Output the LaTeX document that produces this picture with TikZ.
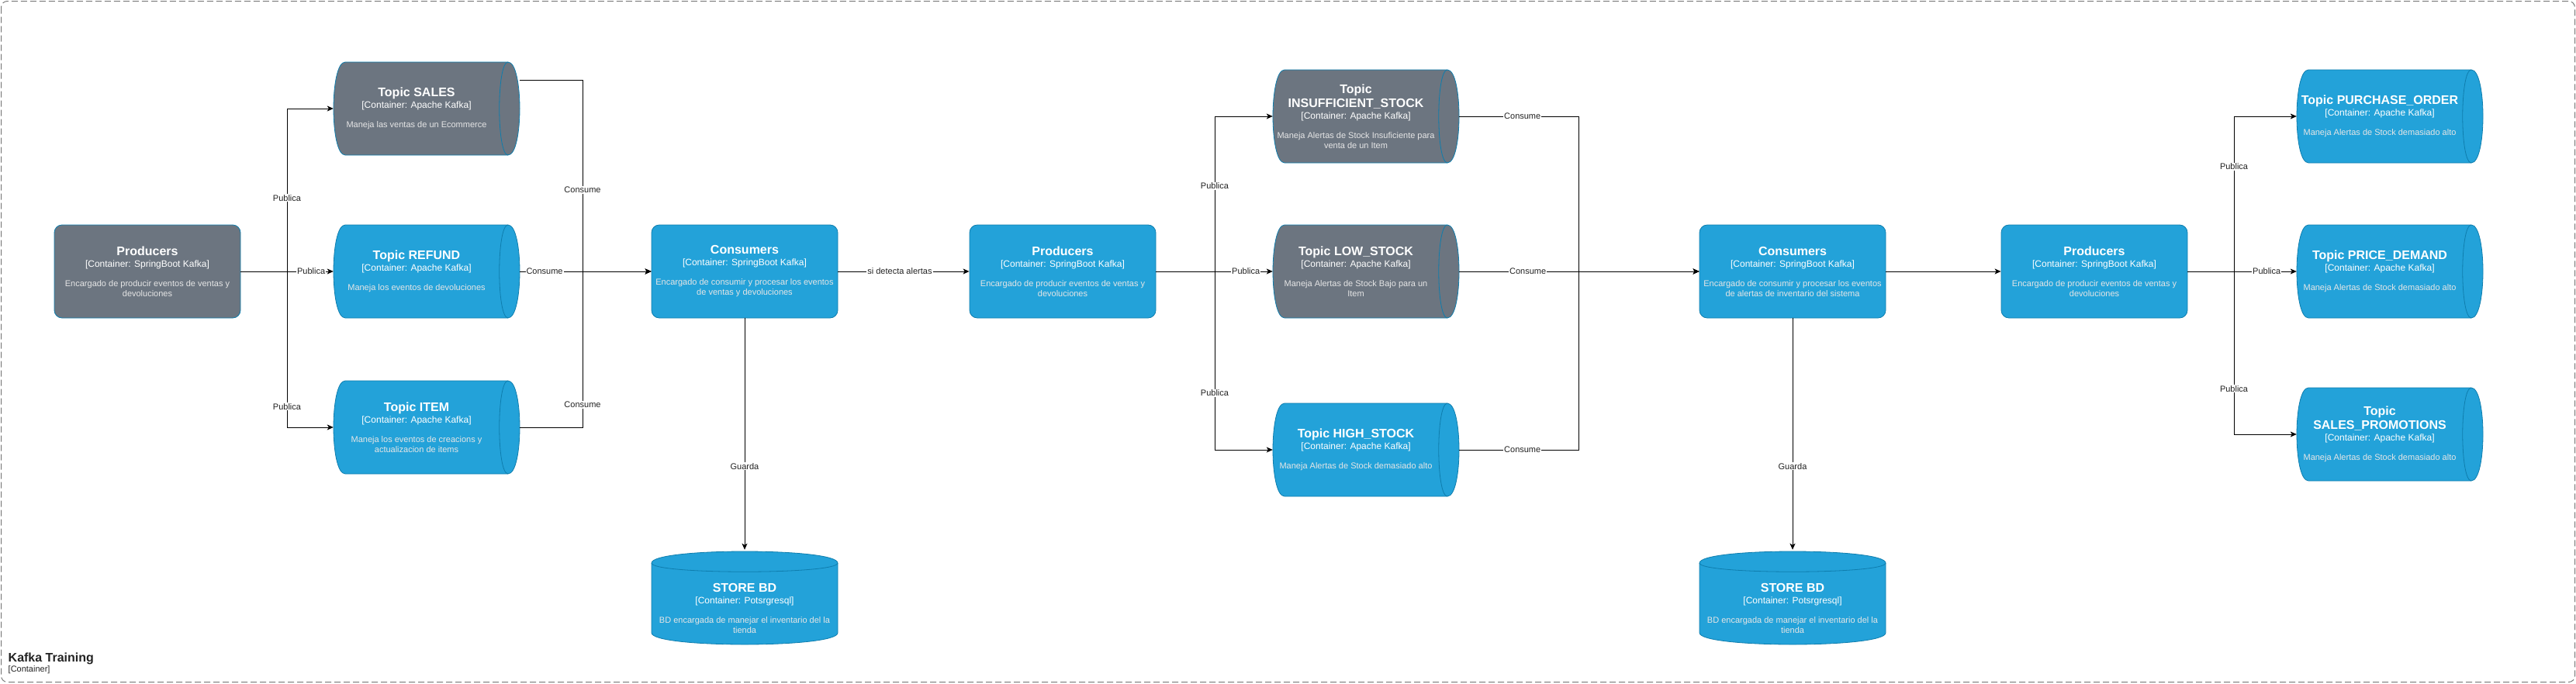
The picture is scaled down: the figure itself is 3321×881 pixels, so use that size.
\documentclass[tikz,border=0pt]{standalone}
\usepackage{fontspec}
\setmainfont{Liberation Sans}
\usetikzlibrary{arrows.meta}
\definecolor{c4blue}{HTML}{23A2D9}
\definecolor{c4gray}{HTML}{6C7580}
\definecolor{c4stroke}{HTML}{0E7DAD}
\definecolor{desccol}{HTML}{E6E6E6}
\definecolor{boundcol}{HTML}{7A7A7A}
\definecolor{labcol}{HTML}{222222}
\newcommand\kttl[1]{{\fontsize{16}{13}\selectfont\bfseries #1}}
\newcommand\ktyp[1]{{\fontsize{12}{13}\selectfont #1}}
\newcommand\kdsc[1]{{\color{desccol}#1}}
\tikzset{
  txt/.style={align=center, text=white, inner sep=0pt,
    font={\fontsize{11}{13}\selectfont\lineskiplimit=-50pt\lineskip=0pt}},
  shapebox/.style={draw=none, minimum width=240pt, minimum height=120pt, inner sep=0pt},
  c4line/.style={draw=c4stroke, line width=0.8pt},
  cont/.style={txt, c4line, rounded corners=10pt, minimum width=240pt, minimum height=120pt},
  rel/.style={draw=black, line width=1pt, -{Stealth[length=8pt,width=7pt,inset=2pt]}},
  lbl/.style={fill=white, inner sep=1pt, text=labcol, font={\fontsize{11}{13}\selectfont}},
}
% horizontal queue: name, left, top, fill, text
\newcommand\kqueue[5]{%
  \filldraw[c4line, fill=#4] (#2+225,#3) .. controls (#2+245,#3) and (#2+245,#3+120) .. (#2+225,#3+120)
     -- (#2+15,#3+120) .. controls (#2-5,#3+120) and (#2-5,#3) .. (#2+15,#3) -- cycle;
  \draw[c4line] (#2+225,#3) .. controls (#2+210,#3) and (#2+210,#3+120) .. (#2+225,#3+120);
  \node[shapebox] (#1) at (#2+120,#3+60) {};
  \node[txt] (#1-t) at (#2+107,#3+60) {#5};
}
% vertical store: name, left, top, fill, text
\newcommand\kstore[5]{%
  \filldraw[c4line, fill=#4] (#2,#3+15) .. controls (#2,#3-5) and (#2+240,#3-5) .. (#2+240,#3+15)
     -- (#2+240,#3+105) .. controls (#2+240,#3+125) and (#2,#3+125) .. (#2,#3+105) -- cycle;
  \draw[c4line] (#2,#3+15) .. controls (#2,#3+30) and (#2+240,#3+30) .. (#2+240,#3+15);
  \node[shapebox] (#1) at (#2+120,#3+60) {};
  \node[txt] (#1-t) at (#2+120,#3+73) {#5};
}
\begin{document}
\begin{tikzpicture}[x=1pt,y=-1pt]
\useasboundingbox (0,0) rectangle (3321,881);
% boundary
\draw[boundcol, line width=1pt, dash pattern=on 8pt off 4pt, rounded corners=8pt] (1.5,1.5) rectangle (3319.5,879.5);
\node[anchor=base west, inner sep=0pt, text=labcol, font={\fontsize{16}{19}\selectfont\bfseries}] (bt) at (10.5,853) {Kafka Training};
\node[anchor=base west, inner sep=0pt, text=labcol, font={\fontsize{11}{13}\selectfont}] (bc) at (10.5,866) {[Container]};

% stage 1
\node[cont, fill=c4gray] (P1) at (190,350) {\kttl{Producers}\\[2pt]\ktyp{[Container: SpringBoot Kafka]}\\[12pt]\kdsc{Encargado de producir eventos de ventas y}\\\kdsc{devoluciones}};
\kqueue{SALES}{430}{80}{c4gray}{\kttl{Topic SALES}\\[2pt]\ktyp{[Container: Apache Kafka]}\\[12pt]\kdsc{Maneja las ventas de un Ecommerce}}
\kqueue{REFUND}{430}{290}{c4blue}{\kttl{Topic REFUND}\\[2pt]\ktyp{[Container: Apache Kafka]}\\[12pt]\kdsc{Maneja los eventos de devoluciones}}
\kqueue{ITEM}{430}{491}{c4blue}{\kttl{Topic ITEM}\\[2pt]\ktyp{[Container: Apache Kafka]}\\[12pt]\kdsc{Maneja los eventos de creacions y}\\\kdsc{actualizacion de items}}
\node[cont, fill=c4blue] (C1) at (960,350) {\kttl{Consumers}\\[2pt]\ktyp{[Container: SpringBoot Kafka]}\\[12pt]\kdsc{Encargado de consumir y procesar los eventos}\\\kdsc{de ventas y devoluciones}};
\kstore{S1}{840}{711}{c4blue}{\kttl{STORE BD}\\[2pt]\ktyp{[Container: Potsrgresql]}\\[12pt]\kdsc{BD encargada de manejar el inventario del la}\\\kdsc{tienda}}

% stage 2
\node[cont, fill=c4blue] (P2) at (1370,350) {\kttl{Producers}\\[2pt]\ktyp{[Container: SpringBoot Kafka]}\\[12pt]\kdsc{Encargado de producir eventos de ventas y}\\\kdsc{devoluciones}};
\kqueue{INSUF}{1641}{90}{c4gray}{\kttl{Topic}\\[5pt]\kttl{INSUFFICIENT\_STOCK}\\[2pt]\ktyp{[Container: Apache Kafka]}\\[12pt]\kdsc{Maneja Alertas de Stock Insuficiente para}\\\kdsc{venta de un Item}}
\kqueue{LOW}{1641}{290}{c4gray}{\kttl{Topic LOW\_STOCK}\\[2pt]\ktyp{[Container: Apache Kafka]}\\[12pt]\kdsc{Maneja Alertas de Stock Bajo para un}\\\kdsc{Item}}
\kqueue{HIGH}{1641}{520}{c4blue}{\kttl{Topic HIGH\_STOCK}\\[2pt]\ktyp{[Container: Apache Kafka]}\\[12pt]\kdsc{Maneja Alertas de Stock demasiado alto}}
\node[cont, fill=c4blue] (C2) at (2311,350) {\kttl{Consumers}\\[2pt]\ktyp{[Container: SpringBoot Kafka]}\\[12pt]\kdsc{Encargado de consumir y procesar los eventos}\\\kdsc{de alertas de inventario del sistema}};
\kstore{S2}{2191}{711}{c4blue}{\kttl{STORE BD}\\[2pt]\ktyp{[Container: Potsrgresql]}\\[12pt]\kdsc{BD encargada de manejar el inventario del la}\\\kdsc{tienda}}

% stage 3
\node[cont, fill=c4blue] (P3) at (2700,350) {\kttl{Producers}\\[2pt]\ktyp{[Container: SpringBoot Kafka]}\\[12pt]\kdsc{Encargado de producir eventos de ventas y}\\\kdsc{devoluciones}};
\kqueue{PO}{2961}{90}{c4blue}{\kttl{Topic PURCHASE\_ORDER}\\[2pt]\ktyp{[Container: Apache Kafka]}\\[12pt]\kdsc{Maneja Alertas de Stock demasiado alto}}
\kqueue{PD}{2961}{290}{c4blue}{\kttl{Topic PRICE\_DEMAND}\\[2pt]\ktyp{[Container: Apache Kafka]}\\[12pt]\kdsc{Maneja Alertas de Stock demasiado alto}}
\kqueue{SP}{2961}{500}{c4blue}{\kttl{Topic}\\[5pt]\kttl{SALES\_PROMOTIONS}\\[2pt]\ktyp{[Container: Apache Kafka]}\\[12pt]\kdsc{Maneja Alertas de Stock demasiado alto}}

% junctions
\coordinate (j1) at (370,350);
\coordinate (j2) at (751,350);
\coordinate (j3) at (1566,350);
\coordinate (j4) at (2035,350);
\coordinate (j5) at (2880,350);

% connectors stage 1
\draw[rel] (P1.east) -- (j1) |- node[lbl,pos=0.226]{Publica} (SALES.west);
\draw[rel] (P1.east) -- node[lbl,pos=0.76]{Publica} (REFUND.west);
\draw[rel] (P1.east) -- (j1) |- node[lbl,pos=0.433]{Publica} (ITEM.west);
\draw[rel] ([yshift=37pt]SALES.east) -| node[lbl,pos=0.787]{Consume} (j2) -- (C1.west);
\draw[rel] (REFUND.east) -- node[lbl,pos=0.188]{Consume} (C1.west);
\draw[rel] (ITEM.east) -| node[lbl,pos=0.572]{Consume} (j2) -- (C1.west);
\draw[rel] (C1.east) -- node[lbl,pos=0.47]{si detecta alertas} (P2.west);
\draw[rel] (C1.south) -- node[lbl,pos=0.64]{Guarda} ([yshift=2pt]S1.north);

% connectors stage 2
\draw[rel] (P2.east) -- (j3) |- node[lbl,pos=0.275]{Publica} (INSUF.west);
\draw[rel] (P2.east) -- node[lbl,pos=0.77]{Publica} (LOW.west);
\draw[rel] (P2.east) -- (j3) |- node[lbl,pos=0.341]{Publica} (HIGH.west);
\draw[rel] (INSUF.east) -| node[lbl,pos=0.265]{Consume} (j4) -- (C2.west);
\draw[rel] (LOW.east) -- node[lbl,pos=0.286]{Consume} (C2.west);
\draw[rel] (HIGH.east) -| node[lbl,pos=0.265]{Consume} (j4) -- (C2.west);
\draw[rel] (C2.east) -- (P3.west);
\draw[rel] (C2.south) -- node[lbl,pos=0.64]{Guarda} ([yshift=2pt]S2.north);

% connectors stage 3
\draw[rel] (P3.east) -- (j5) |- node[lbl,pos=0.3375]{Publica} (PO.west);
\draw[rel] (P3.east) -- node[lbl,pos=0.725]{Publica} (PD.west);
\draw[rel] (P3.east) -- (j5) |- node[lbl,pos=0.36]{Publica} (SP.west);
\end{tikzpicture}
\end{document}
